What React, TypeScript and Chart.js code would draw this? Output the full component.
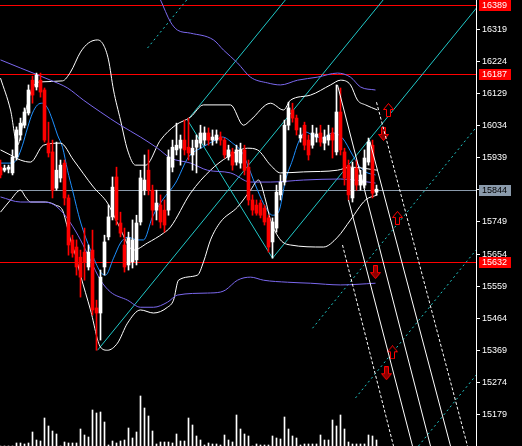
import React, { useEffect, useRef } from "react";
import { Chart, registerables } from "chart.js";
Chart.register(...registerables);

// candles: [open, high, low, close]
const candles: number[][] = [
  [15911,15932,15879,15888],[15902,15917,15897,15908],[15905,15917,15894,15911],[15894,15962,15888,15941],
  [15941,16030,15932,16021],[16006,16056,15991,16041],[16035,16086,16027,16074],[16071,16154,16065,16139],
  [16168,16180,16100,16124],[16148,16189,16139,16183],[16168,16189,16118,16133],[16139,16145,15985,15991],
  [15982,16044,15941,15953],[15956,15991,15820,15843],[15849,15985,15843,15902],[15879,15932,15867,15917],
  [15923,15932,15799,15820],[15820,15829,15651,15681],[15696,15710,15645,15657],[15675,15696,15592,15616],
  [15645,15666,15527,15586],[15660,15731,15577,15631],[15616,15681,15607,15660],[15666,15725,15474,15489],
  [15495,15518,15370,15480],[15480,15607,15400,15586],[15616,15710,15592,15690],[15705,15799,15696,15764],
  [15764,15882,15755,15852],[15882,15911,15740,15755],[15746,15778,15705,15716],[15681,15731,15601,15616],
  [15622,15719,15607,15702],[15631,15755,15613,15696],[15637,15769,15622,15746],[15749,15902,15740,15879],
  [15843,15947,15829,15873],[15902,15962,15829,15843],[15843,15858,15740,15784],[15784,15843,15755,15805],
  [15799,15829,15731,15749],[15784,15814,15719,15740],[15784,15962,15769,15941],[15911,15991,15897,15970],
  [15962,16041,15947,15976],[15967,16006,15917,15991],[15991,16050,15947,15962],[15970,16056,15932,15953],
  [15947,15991,15902,15967],[15970,16006,15894,15991],[15982,16035,15967,16012],[15991,16030,15976,16012],
  [16012,16027,15976,15991],[15991,16021,15976,16000],[15991,16021,15982,16006],[16000,16015,15976,15991],
  [15991,15997,15938,15947],[15941,15976,15932,15962],[15956,15967,15902,15917],[15926,15976,15917,15962],
  [15923,15982,15908,15962],[15962,15976,15888,15902],[15911,15932,15799,15814],[15814,15829,15769,15784],
  [15799,15814,15769,15775],[15805,15814,15761,15769],[15790,15799,15740,15749],[15761,15769,15660,15675],
  [15690,15761,15642,15749],[15731,15858,15719,15837],[15829,15888,15814,15867],[15867,16050,15858,16035],
  [16035,16103,16021,16086],[16080,16100,16044,16056],[16056,16065,16006,16021],[15997,16027,15985,16006],
  [16035,16044,15962,15976],[15991,16006,15932,15947],[15976,16035,15967,16012],[16000,16027,15985,16009],
  [16012,16035,15973,15985],[15982,16021,15962,16000],[15991,16035,15976,16006],[16012,16027,15938,15991],
  [15956,16154,15947,16074],[16074,16145,15947,15962],[15956,15967,15858,15879],[15917,15932,15814,15829],
  [15820,15926,15808,15908],[15908,15932,15843,15858],[15858,15902,15843,15888],[15858,15962,15849,15938],
  [15926,15997,15917,15985],[15976,15991,15820,15834],[15837,15858,15829,15846],
];

const volumes = [
  0,0,0,0,120,120,80,120,560,240,200,1120,800,600,480,0,160,120,120,120,680,440,360,1440,1320,1360,960,40,200,120,
  200,240,720,320,560,2000,1520,1200,600,80,160,160,160,120,480,200,200,1120,840,400,240,40,120,80,80,40,440,240,160,1240,
  680,480,400,0,80,40,40,40,400,320,280,1160,680,400,320,40,80,80,80,80,440,240,240,1040,800,1240,680,160,80,80,
  80,80,440,400,240,
];

const tickValues = [16319,16224,16129,16034,15939,15844,15749,15654,15559,15464,15369,15274,15179];
const redLevels = [16389, 16187, 15632];
const lastPrice = 15844;

// indicator lines: [bar index, price]
const maFast = [[0,15923],[3,15923],[4.25,15938],[5.5,15976],[6.75,16027],[8,16071],[9.25,16095],[10.5,16100],[11.75,16086],[13,16050],[14.25,16006],[15.5,15970],[16.75,15902],[18,15843],[20,15749],[22.5,15666],[25,15601],[26.25,15592],[28.25,15642],[30,15687],[31.75,15704],[34.25,15696],[35.75,15696],[38,15764],[40.5,15814],[43.75,15864],[47,15941],[50.5,15970],[53.75,15991],[55.5,16000],[58,15982],[60.5,15953],[62,15911],[64.25,15843],[66.25,15793],[68,15769],[69.5,15778],[71.25,15873],[73,15932],[74.5,15985],[76.25,16015],[78,16006],[80.5,15997],[83,16012],[85.5,15997],[88,15947],[89.5,15917],[91.25,15897],[93.75,15888]];
const slowUpper = [[37.5,16464],[40,16405],[42.5,16340],[44.25,16316],[47.5,16307],[53.25,16287],[55.75,16257],[59.25,16219],[62.5,16177],[66.75,16160],[70,16154],[74.25,16168],[79.25,16177],[84.25,16189],[87.5,16177],[90,16148],[93.75,16139]];
const slowMid = [[0,16228],[5,16204],[12.5,16168],[16.75,16145],[20.75,16109],[25,16074],[30,16035],[35,16000],[39.25,15967],[42.5,15938],[47.5,15923],[51.75,15902],[57.5,15894],[62.5,15867],[67.5,15867],[75.75,15873],[85,15876],[93.75,15864]];
const slowLower = [[0,15823],[5,15808],[10,15808],[12.5,15805],[15,15784],[17.5,15746],[20,15696],[22.5,15636],[25,15577],[27.5,15542],[31.75,15518],[35,15497],[38.25,15497],[41.75,15512],[44.25,15533],[51.75,15539],[55,15542],[56.25,15548],[59.25,15577],[62.5,15586],[65.75,15577],[71.75,15571],[77.5,15568],[85,15563],[93.75,15568]];
const bandUpper = [[0,16174],[2.5,16080],[4.25,15976],[6,16065],[8,16145],[10,16163],[15.5,16166],[17.5,16192],[20,16251],[22,16278],[24.25,16287],[25.75,16272],[27,16228],[28.25,16139],[30,16050],[31.75,15962],[33.75,15917],[36.25,15917],[40,15991],[43.75,16035],[47.5,16059],[50.75,16095],[57.5,16095],[60.75,16035],[62.5,16050],[67.5,16100],[70.75,16080],[72.5,16109],[77.5,16124],[82.5,16154],[85,16168],[87.5,16154],[89.25,16109],[91.25,16095],[94.25,16080]];
const bandMid = [[0,15962],[2.5,15947],[5,15932],[7.5,15926],[10.75,15976],[15,15982],[18.25,15932],[23.25,15852],[26.75,15805],[29.25,15746],[33.25,15666],[36.75,15687],[40.75,15716],[42.5,15734],[47.5,15834],[52.5,15902],[56.75,15941],[61.75,15967],[64.25,15962],[67.5,15917],[70,15894],[75.75,15897],[84.25,15902],[87.5,15911],[94.25,15902]];
const bandLower = [[0,15778],[2.5,15814],[5,15843],[6.25,15823],[7.5,15808],[11.25,15808],[13.75,15799],[15.5,15784],[16.25,15755],[17.5,15696],[18.75,15651],[20,15592],[22.5,15489],[25,15379],[26.75,15370],[29.25,15391],[31.75,15450],[35,15489],[38.25,15480],[41.75,15497],[43.25,15518],[44.5,15577],[49.25,15592],[50.75,15631],[52.5,15696],[55,15749],[59.25,15793],[62.5,15843],[64.5,15873],[66.25,15814],[67.5,15755],[70,15696],[72.5,15681],[80.75,15675],[84.25,15704],[87.5,15755],[91.25,15814],[94.25,15829]];

// channel lines (cyan)
const chanSolid = [
  [[24.25,15370],[100,16468]],
  [[46.75,16050],[75,16460]],
  [[68,15642],[122,16425]],
  [[46.75,16050],[68,15642]],
];
const chanDotted = [
  [[36.75,16263],[46.75,16408]],
  [[78,15435],[119.5,16037]],
  [[88.75,15229],[119.5,15675]],
  [[104.5,15087],[119.5,15305]],
];
// pitchfork (white)
const forkSolid = [
  [[84.25,16154],[107.5,15087]],
  [[87,15814],[103,15087]],
  [[92.25,15991],[112.5,15087]],
];
const forkDashed = [
  [[85.5,15681],[98.25,15087]],
  [[94,16103],[116.75,15087]],
];
const upArrows = [[97,16080],[99.25,15761],[98,15364]];
const downArrows = [[95.75,16009],[93.75,15601],[96.5,15302]];

const CYAN = "#20c8c8";
const FONT = "'Liberation Sans', Arial, sans-serif";

function makeArrow(up: boolean) {
  const c = document.createElement("canvas");
  c.width = 11; c.height = 14;
  const g = c.getContext("2d")!;
  g.beginPath();
  const pts = [[5.5,0.5],[10.5,6.5],[7.5,6.5],[7.5,13.5],[3.5,13.5],[3.5,6.5],[0.5,6.5]];
  pts.forEach(([x,y],k)=>{ const yy = up ? y : 14 - y; if(k===0) g.moveTo(x,yy); else g.lineTo(x,yy); });
  g.closePath();
  g.fillStyle = up ? "#000" : "#8b0000";
  g.fill();
  g.strokeStyle = "#ff0000";
  g.lineWidth = 1;
  g.stroke();
  return c;
}

function line(points: number[][], color: string, opts: any = {}) {
  return {
    type: "line",
    data: points.map(([x, y]) => ({ x, y })),
    borderColor: color,
    borderWidth: 1,
    pointRadius: 0,
    borderDash: opts.dash || [],
    cubicInterpolationMode: opts.smooth ? "monotone" : "default",
    tension: 0,
    order: opts.order ?? 2,
    yAxisID: "y",
  };
}

export default function App() {
  const ref = useRef<HTMLCanvasElement>(null);
  useEffect(() => {
    const bull = (c: number[]) => c[3] >= c[0];
    const colors = candles.map((c) => (bull(c) ? "#ffffff" : "#ff0000"));
    const levelsPlugin = {
      id: "levels",
      beforeDatasetsDraw(chart: any) {
        const { ctx, chartArea, scales } = chart;
        ctx.save();
        ctx.lineWidth = 1;
        ctx.strokeStyle = "#ff0000";
        redLevels.forEach((v) => {
          const y = Math.round(scales.y.getPixelForValue(v)) + 0.5;
          ctx.beginPath(); ctx.moveTo(chartArea.left, y); ctx.lineTo(chartArea.right, y); ctx.stroke();
        });
        ctx.strokeStyle = "#8a9aab";
        const y = Math.round(scales.y.getPixelForValue(lastPrice)) + 0.5;
        ctx.beginPath(); ctx.moveTo(chartArea.left, y); ctx.lineTo(chartArea.right, y); ctx.stroke();
        ctx.restore();
      },
      afterDraw(chart: any) {
        const { ctx, chartArea, scales } = chart;
        ctx.save();
        ctx.font = "9px " + FONT;
        ctx.textBaseline = "middle";
        const tag = (v: number, bg: string, fg: string) => {
          const y = Math.round(scales.y.getPixelForValue(v));
          ctx.fillStyle = bg;
          ctx.fillRect(chartArea.right + 3, y - 5, 32, 11);
          ctx.fillStyle = fg;
          ctx.fillText(String(v), chartArea.right + 6, y + 0.5);
        };
        redLevels.forEach((v) => tag(v, "#ff0000", "#ffffff"));
        tag(lastPrice, "#8a9aab", "#000000");
        ctx.restore();
      },
    };
    const bgPlugin = {
      id: "bg",
      beforeDraw(chart: any) {
        const { ctx } = chart;
        ctx.save(); ctx.fillStyle = "#000"; ctx.fillRect(0, 0, chart.width, chart.height); ctx.restore();
      },
    };
    const datasets: any[] = [
      {
        type: "bar", data: volumes.map((v, i) => ({ x: i, y: v })), yAxisID: "yVol",
        backgroundColor: "#ffffff", barThickness: 1, grouped: false, order: 5,
      },
      line(slowUpper, "#7b68ee", { smooth: true }),
      line(slowMid, "#7b68ee", { smooth: true }),
      line(slowLower, "#7b68ee", { smooth: true }),
      line(bandUpper, "#ffffff", { smooth: true }),
      line(bandMid, "#ffffff", { smooth: true }),
      line(bandLower, "#ffffff", { smooth: true }),
      line(maFast, "#1e90ff", { smooth: true }),
      ...chanSolid.map((p) => line(p, CYAN, { order: 3 })),
      ...chanDotted.map((p) => line(p, CYAN, { dash: [2, 3], order: 3 })),
      ...forkSolid.map((p) => line(p, "#ffffff", { order: 0 })),
      ...forkDashed.map((p) => line(p, "#ffffff", { dash: [3, 2], order: 0 })),
      {
        type: "bar", data: candles.map((c, i) => ({ x: i, y: [c[2], c[1]] })), yAxisID: "y",
        backgroundColor: colors, barThickness: 1, grouped: false, order: 1,
      },
      {
        type: "bar", data: candles.map((c, i) => ({ x: i, y: [Math.min(c[0], c[3]), Math.max(c[0], c[3])] })), yAxisID: "y",
        backgroundColor: colors, barThickness: 3, grouped: false, minBarLength: 1, order: 1,
      },
      {
        type: "scatter", data: upArrows.map(([x, y]) => ({ x, y })), pointStyle: makeArrow(true), pointRadius: 5, order: 0, yAxisID: "y",
      },
      {
        type: "scatter", data: downArrows.map(([x, y]) => ({ x, y })), pointStyle: makeArrow(false), pointRadius: 5, order: 0, yAxisID: "y",
      },
    ];
    const chart = new Chart(ref.current!, {
      type: "bar",
      data: { datasets },
      plugins: [bgPlugin, levelsPlugin],
      options: {
        responsive: false,
        devicePixelRatio: 1,
        animation: false,
        layout: { padding: 0, autoPadding: false },
        plugins: { legend: { display: false }, tooltip: { enabled: false } },
        scales: {
          x: { type: "linear", min: -0.125, max: 118.875, display: false, offset: false, grid: { offset: false } },
          y: {
            position: "right", min: 15087, max: 16405,
            afterBuildTicks: (s: any) => { s.ticks = tickValues.map((v) => ({ value: v })); },
            afterFit: (s: any) => {
              s.width = 46;
              s.paddingTop = 0; s.paddingBottom = 0; s.paddingLeft = 0; s.paddingRight = 0;
            },
            ticks: {
              color: "#ffffff", padding: 2, autoSkip: false,
              font: { family: FONT, size: 9 },
              callback: (v: any) => String(v),
            },
            grid: { drawOnChartArea: false, color: "#ffffff", tickLength: 4 },
            border: { color: "#ffffff" },
          },
          yVol: { display: false, min: 0, max: 446 * 40 },
        },
      } as any,
    } as any);
    return () => chart.destroy();
  }, []);
  return (
    <div style={{ position: "fixed", left: 0, top: 0, width: 522, height: 446, background: "#000" }}>
      <canvas ref={ref} width={522} height={446} style={{ display: "block" }} />
    </div>
  );
}
